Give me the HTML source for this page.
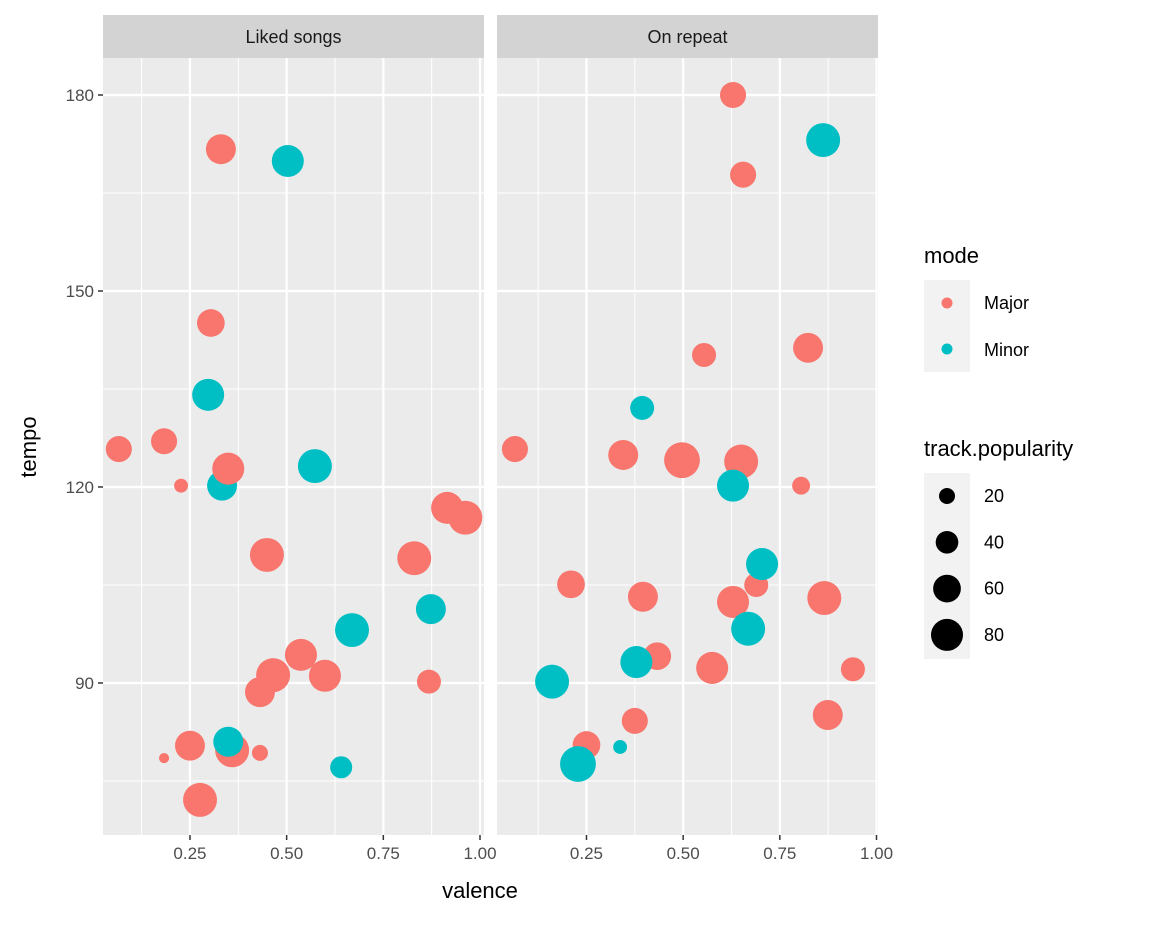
<!DOCTYPE html>
<html><head><meta charset="utf-8"><style>
body{margin:0;background:#fff;font-family:"Liberation Sans",Arial,sans-serif;}
svg text{font-family:"Liberation Sans",Arial,sans-serif;}
</style></head><body>
<svg id="chart" width="1152" height="921" xmlns="http://www.w3.org/2000/svg">
<rect width="1152" height="921" fill="#fff"/>
<g id="panels"></g>
<text x="480" y="898" font-size="22" text-anchor="middle" fill="#000">valence</text>
<text transform="translate(36,447) rotate(-90)" font-size="22" text-anchor="middle" fill="#000">tempo</text>
<g>
<text x="924" y="263" font-size="22" fill="#000">mode</text>
<rect x="924" y="280" width="46" height="46" fill="#F2F2F2"/>
<rect x="924" y="326" width="46" height="46" fill="#F2F2F2"/>
<circle cx="947" cy="303" r="5.5" fill="#F8766D"/>
<circle cx="947" cy="349" r="5.5" fill="#00BFC4"/>
<text x="984" y="309" font-size="18" fill="#000">Major</text>
<text x="984" y="356" font-size="18" fill="#000">Minor</text>
</g>
<g id="sizelegend">
<text x="924" y="456" font-size="22" fill="#000">track.popularity</text>
<rect x="924" y="473" width="46" height="186" fill="#F2F2F2"/>
</g>
</svg>
<script>
const panelNames = ["Liked songs", "On repeat"];
const likedValence = [0.066,0.183,0.227,0.183,0.25,0.276,0.359,0.349,0.431,0.431,0.465,0.537,0.599,0.641,0.669,0.449,0.297,0.333,0.349,0.573,0.304,0.33,0.503,0.830,0.873,0.868,0.915,0.962];
const likedTempo = [125.8,127.0,120.2,78.5,80.4,72.1,79.7,81.0,79.3,88.6,91.2,94.3,91.1,77.1,98.1,109.6,134.1,120.2,122.8,123.2,145.1,171.7,169.9,109.1,101.3,90.2,116.8,115.3];
const likedPopularity = [53,53,15,8,70,90,90,70,20,70,90,80,80,38,90,90,80,70,80,90,60,70,80,90,70,45,80,90];
const likedMode = ["Major","Major","Major","Major","Major","Major","Major","Minor","Major","Major","Major","Major","Major","Minor","Minor","Major","Minor","Minor","Major","Minor","Major","Major","Minor","Major","Minor","Major","Major","Major"];
const repeatValence = [0.065,0.345,0.497,0.650,0.629,0.655,0.862,0.554,0.823,0.394,0.629,0.805,0.210,0.396,0.629,0.689,0.704,0.865,0.668,0.433,0.379,0.575,0.161,0.939,0.874,0.375,0.250,0.337,0.228];
const repeatTempo = [125.8,124.9,124.1,123.9,180.0,167.8,173.1,140.2,141.3,132.1,120.2,120.2,105.1,103.2,102.4,105.0,108.2,103.0,98.3,94.1,93.2,92.3,90.2,92.1,85.1,84.2,80.5,80.2,77.6];
const repeatPopularity = [53,70,100,90,53,53,90,45,70,45,80,25,60,70,80,45,80,90,90,60,80,80,90,45,70,53,60,15,100];
const repeatMode = ["Major","Major","Major","Major","Major","Major","Minor","Major","Major","Minor","Minor","Major","Major","Major","Major","Major","Minor","Major","Minor","Major","Minor","Major","Minor","Major","Major","Major","Major","Minor","Minor"];
const xTicks = [0.25,0.5,0.75,1.0];
const xTickLabels = ["0.25","0.50","0.75","1.00"];
const xMinor = [0.125,0.375,0.625,0.875];
const yTicks = [90,120,150,180];
const yMinor = [75,105,135,165];
const sizeBreaks = [20,40,60,80];

const NS = "http://www.w3.org/2000/svg";
const colors = {Major:"#F8766D", Minor:"#00BFC4"};
const panelLeft = [103,497], panelW = 381, topY = 58, bottomY = 835;
const xOrigin = [93.3,489.8], xScale = 386.7;
function xPos(p,v){return xOrigin[p]+v*xScale;}
function yPos(t){return 95+(180-t)*6.533;}
function rSize(s){return 1.79*Math.sqrt(s);}
function mk(tag, attrs, parent){const e=document.createElementNS(NS,tag);for(const k in attrs)e.setAttribute(k,attrs[k]);parent.appendChild(e);return e;}
const g = document.getElementById("panels");
const datasets = [[likedValence,likedTempo,likedPopularity,likedMode],[repeatValence,repeatTempo,repeatPopularity,repeatMode]];
for(let p=0;p<2;p++){
  const L = panelLeft[p];
  const bg = mk("rect",{x:L,y:topY,width:panelW,height:bottomY-topY,fill:"#EBEBEB"},g);
  
  
  const st = mk("rect",{x:L,y:15,width:panelW,height:43,fill:"#D3D3D3"},g);
  
  
  const stt = mk("text",{x:L+panelW/2,y:43,"font-size":18,"text-anchor":"middle",fill:"#1A1A1A"},g);
  stt.textContent = panelNames[p];
  
  
  xMinor.forEach(v=>{const l=mk("line",{x1:xPos(p,v),x2:xPos(p,v),y1:topY,y2:bottomY,stroke:"#fff","stroke-width":1},g);
    
    });
  yMinor.forEach(v=>{const l=mk("line",{x1:L,x2:L+panelW,y1:yPos(v),y2:yPos(v),stroke:"#fff","stroke-width":1},g);
    
    });
  xTicks.forEach((v,i)=>{const x=xPos(p,v);
    const l=mk("line",{x1:x,x2:x,y1:topY,y2:bottomY,stroke:"#fff","stroke-width":2.2},g);
    
    
    const tk=mk("line",{x1:x,x2:x,y1:bottomY,y2:bottomY+5,stroke:"#333","stroke-width":1.5},g);
    
    
    const t=mk("text",{x:x,y:bottomY+24,"font-size":17,"text-anchor":"middle",fill:"#4D4D4D"},g);
    t.textContent=xTickLabels[i];
    
    });
  yTicks.forEach(v=>{const y=yPos(v);
    const l=mk("line",{x1:L,x2:L+panelW,y1:y,y2:y,stroke:"#fff","stroke-width":2.2},g);
    
    
    if(p===0){
      const tk=mk("line",{x1:L-5,x2:L,y1:y,y2:y,stroke:"#333","stroke-width":1.5},g);
      
      
      const t=mk("text",{x:L-9,y:y+6,"font-size":17,"text-anchor":"end",fill:"#4D4D4D"},g);
      t.textContent=String(v);
      
      
    }});
  const [vx,vy,vs,vm]=datasets[p];
  for(let i=0;i<vx.length;i++){
    const c=mk("circle",{cx:xPos(p,vx[i]),cy:yPos(vy[i]),r:rSize(vs[i]),fill:colors[vm[i]]},g);
    
    
  }
}
const sl = document.getElementById("sizelegend");
sizeBreaks.forEach((s,i)=>{const y=496+i*46.3;
  const c=mk("circle",{cx:947,cy:y,r:rSize(s),fill:"#000"},sl);
  
  
  const t=mk("text",{x:984,y:y+6,"font-size":18,fill:"#000"},sl);
  t.textContent=String(s);
  
  });
</script>
</body></html>
